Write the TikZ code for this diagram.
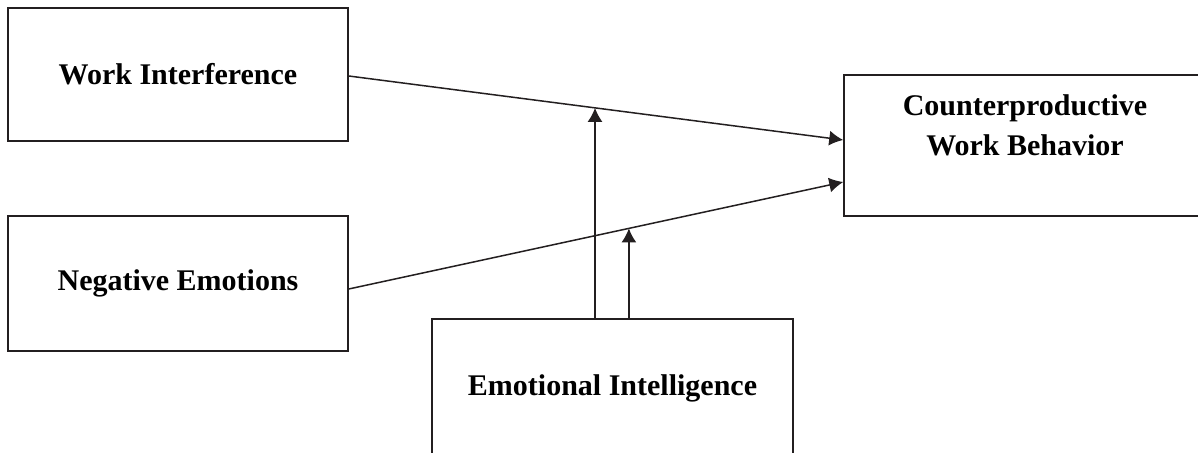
\documentclass[tikz,border=0pt]{standalone}
\usepackage{fontspec}
\setmainfont{Liberation Serif}
\usetikzlibrary{arrows.meta,positioning}
\definecolor{inkgray}{HTML}{231F20}

\begin{document}
\begin{tikzpicture}[
  x=0.5pt, y=-0.5pt,
  font=\fontsize{15}{20}\selectfont\bfseries,
  >={Latex[length=7pt,width=7.5pt]},
  box/.style={draw=inkgray, line width=0.75pt, align=center, inner sep=0pt},
  arr/.style={->, draw=inkgray, fill=inkgray, line width=0.75pt}
]
  \useasboundingbox (0,0) rectangle (1198,453);
  \node[box, minimum width=170pt, minimum height=66.5pt] (wi) at (178,74.5) {Work Interference};
  \node[box, minimum width=170pt, minimum height=67.5pt] (ne) at (178,283.5) {Negative Emotions};
  \node[box, minimum width=180.5pt, minimum height=69.5pt] (ei) at (612.5,388.5) {Emotional Intelligence};
  \node[box, minimum width=181pt, minimum height=70.5pt] (cwb) at (1025,145.5) {Counterproductive\\Work Behavior\\~};
  \draw[arr] ([yshift=-0.75pt]wi.east) -- coordinate[pos=0.498] (wimid) ([yshift=2.75pt]cwb.west);
  \draw[arr] ([yshift=-2.75pt]ne.east) -- coordinate[pos=0.5665] (nemid) ([yshift=-18.25pt]cwb.west);
  \draw[arr] (ei.north -| wimid) -- (wimid);
  \draw[arr] (ei.north -| nemid) -- (nemid);
\end{tikzpicture}
\end{document}
